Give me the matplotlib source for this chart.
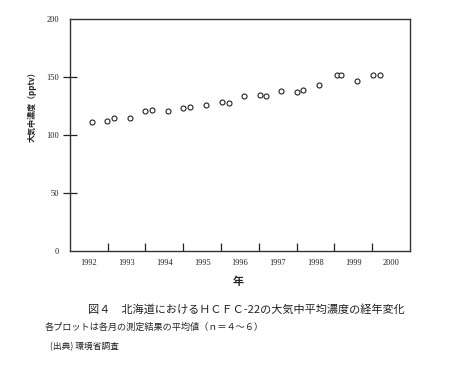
import matplotlib
matplotlib.use("Agg")
import matplotlib.pyplot as plt

plt.rcParams['font.family'] = ['Noto Sans CJK JP', 'DejaVu Sans']

# data (decimal year, pptv)
dates = [1992.58, 1992.98, 1993.16, 1993.59, 1994.00, 1994.16, 1994.59, 1995.00,
         1995.18, 1995.60, 1996.02, 1996.20, 1996.62, 1997.03, 1997.19, 1997.60,
         1998.00, 1998.17, 1998.58, 1999.07, 1999.17, 1999.60, 2000.03, 2000.21]
conc = [110.8, 112.0, 114.3, 114.3, 120.3, 121.2, 120.3, 123.2,
        124.1, 125.5, 128.4, 127.5, 133.6, 134.8, 133.9, 137.9,
        136.8, 139.1, 143.1, 151.5, 152.1, 146.3, 151.5, 151.5]

years = [1992, 1993, 1994, 1995, 1996, 1997, 1998, 1999, 2000]
yticks = [0, 50, 100, 150, 200]

fig = plt.figure(figsize=(4.51, 3.67), dpi=100)
ax = fig.add_axes([0.155, 0.317, 0.754, 0.631])

ax.plot(dates, conc, 'o', mfc='white', mec='#222222', ms=3.6, mew=0.8)

ax.set_xlim(1992, 2001)
ax.set_ylim(0, 200)

# ticks at year boundaries, labels centred in each year
ax.set_xticks([y + 1 for y in years[:-1]])
ax.set_xticklabels([])
ax.set_xticks([y + 0.5 for y in years], minor=True)
ax.set_xticklabels([str(y) for y in years], minor=True,
                   family='Liberation Serif', fontsize=6, color='#222222')
ax.tick_params(axis='x', which='major', direction='in', length=6, width=0.9, color='#222222')
ax.tick_params(axis='x', which='minor', length=0, pad=6)

ax.set_yticks(yticks)
ax.set_yticklabels([str(v) for v in yticks], family='Liberation Serif',
                   fontsize=6, color='#222222')
ax.tick_params(axis='y', direction='inout', length=10, width=0.9, color='#222222', pad=3)
# no tick marks at the corners
for t in (ax.yaxis.get_major_ticks()[0], ax.yaxis.get_major_ticks()[-1]):
    t.tick1line.set_visible(False)

for s in ax.spines.values():
    s.set_linewidth(1.0)
    s.set_color('#333333')

fig.text(32 / 451, 1 - 105 / 367, '大気中濃度（pptv）', rotation=90, fontsize=5.8,
         fontweight='bold', ha='center', va='center', color='#222222')

fig.text(238 / 451, 1 - 282 / 367, '年', fontsize=8, fontweight='bold',
         ha='center', va='center', color='#222222')
fig.text(88 / 451, 1 - 310 / 367, '図４　北海道におけるＨＣＦＣ-22の大気中平均濃度の経年変化',
         fontsize=8, ha='left', va='center', color='#222222')
fig.text(45 / 451, 1 - 327 / 367, '各プロットは各月の測定結果の平均値（ｎ＝４～６）',
         fontsize=6.6, ha='left', va='center', color='#222222')
fig.text(50 / 451, 1 - 347 / 367, '(出典) 環境省調査',
         fontsize=6.3, ha='left', va='center', color='#222222')

fig.savefig('out.png', dpi=100)
